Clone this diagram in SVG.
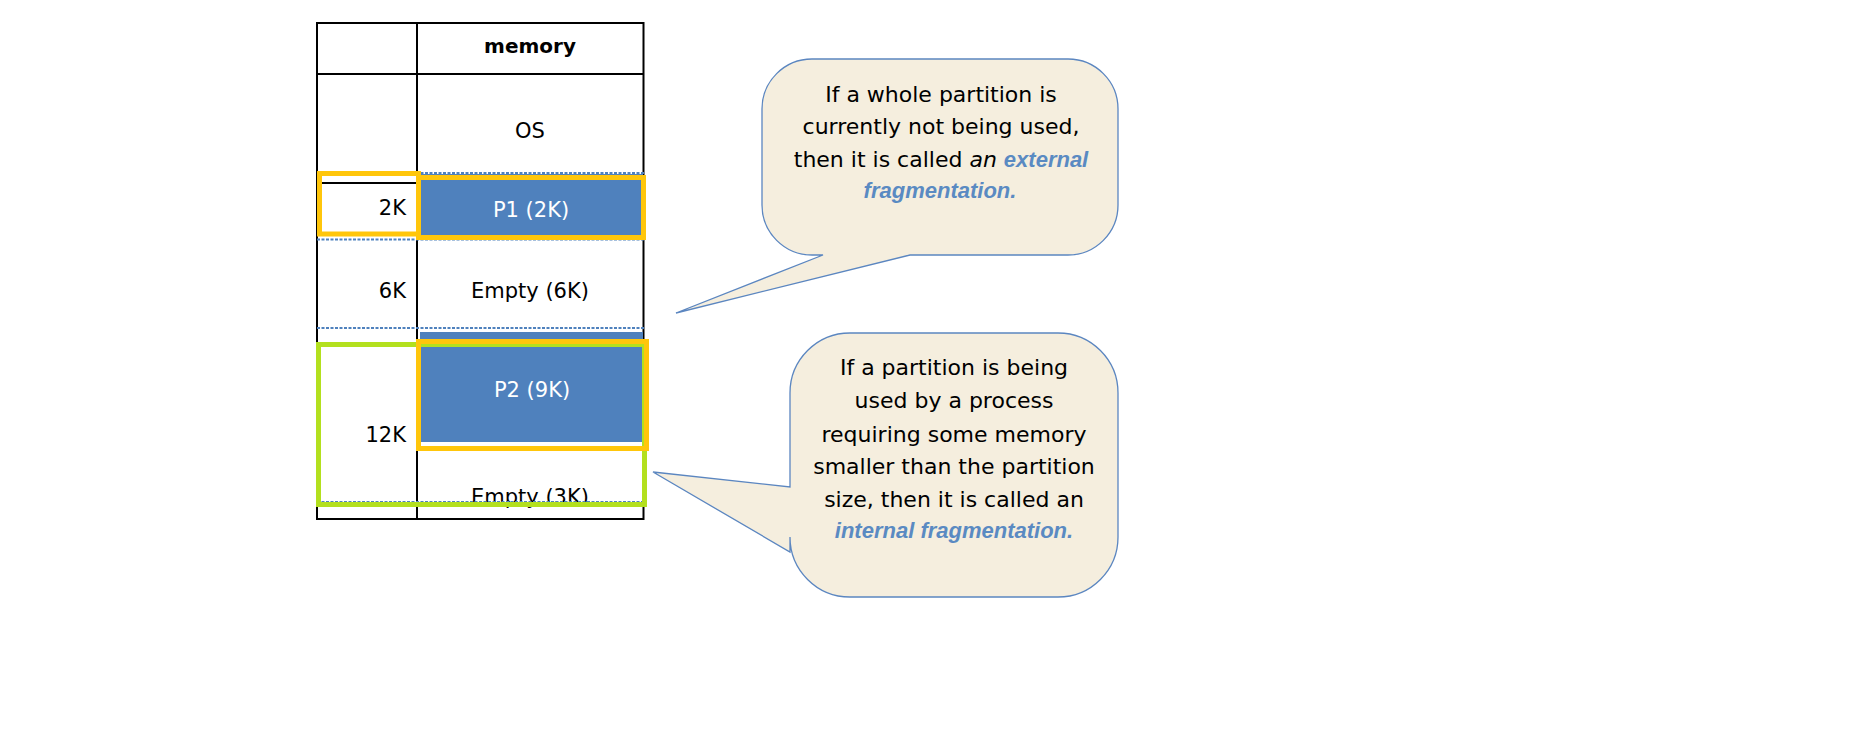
<svg xmlns="http://www.w3.org/2000/svg" width="1852" height="743" viewBox="0 0 1852 743">
<style>
.t{font-family:"DejaVu Sans","Liberation Sans",sans-serif;font-size:21px;fill:#000}
.k{font-size:22px}
.c{text-anchor:middle}
.r{text-anchor:end}
.w{fill:#fff}
.grid{stroke:#000;stroke-width:2;fill:none}
.dot{stroke:#4F81BD;stroke-width:2;stroke-dasharray:3 1.5;fill:none}
.blue{fill:#4F81BD}
.yel{fill:none;stroke:#FFC60B;stroke-width:5}
.grn{fill:none;stroke:#B3E01E;stroke-width:5}
.call{fill:#F5EEDE;stroke:#5B86C0;stroke-width:1.3}
.em{fill:#5A8AC2;font-family:"Liberation Sans","DejaVu Sans",sans-serif;font-size:22px;font-weight:bold;font-style:italic}
.it{font-style:italic}
</style>
<rect width="1852" height="743" fill="#fff"/>
<g id="table">
<rect class="grid" x="317" y="23" width="326.5" height="496"/>
<line class="grid" x1="417" y1="23" x2="417" y2="519"/>
<line class="grid" x1="317" y1="74" x2="643.5" y2="74"/>
<line class="grid" x1="317" y1="183" x2="643.5" y2="183"/>
<text class="t c" x="530" y="53" style="font-weight:bold;font-size:20px">memory</text>
<text class="t c" x="530" y="138">OS</text>
</g>
<g id="p1">
<rect class="blue" x="418" y="174" width="225" height="65"/>
<line class="dot" x1="317" y1="173" x2="645" y2="173"/>
<line class="dot" x1="317" y1="239.5" x2="645" y2="239.5"/>
<text class="t r" x="406" y="215">2K</text>
<text class="t c w" x="531" y="217">P1 (2K)</text>
</g>
<g id="empty6">
<text class="t r" x="406" y="298">6K</text>
<text class="t c" x="530" y="298">Empty (6K)</text>
<line class="dot" x1="317" y1="328" x2="645" y2="328"/>
</g>
<g id="p2">
<rect class="blue" x="420" y="332" width="223" height="110"/>
<text class="t c w" x="532" y="397">P2 (9K)</text>
<text class="t r" x="406" y="442">12K</text>
<text class="t c" x="530" y="504">Empty (3K)</text>
<line class="dot" x1="317" y1="502" x2="645" y2="502"/>
</g>
<g id="highlights">
<rect class="yel" x="319.5" y="173.5" width="99" height="60.5"/>
<rect class="yel" x="418.5" y="177.5" width="225" height="60"/>
<rect class="grn" x="318.5" y="344.5" width="326" height="160"/>
<rect class="yel" x="418.5" y="341.5" width="228" height="107"/>
</g>
<g id="callout-external">
<path class="call" d="M812,59 H1068 A50,50 0 0 1 1118,109 V205 A50,50 0 0 1 1068,255 H910 L676,313 L823,255 H812 A50,50 0 0 1 762,205 V109 A50,50 0 0 1 812,59 Z"/>
<text class="t k c" x="941" y="102">If a whole partition is</text>
<text class="t k c" x="941" y="134">currently not being used,</text>
<text class="t k c" x="941" y="167">then it is called <tspan class="it">an</tspan> <tspan class="em">external</tspan></text>
<text class="t k c em" x="940" y="198">fragmentation.</text>
</g>
<g id="callout-internal">
<path class="call" d="M850,333 H1058 A60,60 0 0 1 1118,393 V537 A60,60 0 0 1 1058,597 H850 A60,60 0 0 1 790,537 V552 L653,472 L790,487 V393 A60,60 0 0 1 850,333 Z"/>
<text class="t k c" x="954" y="375">If a partition is being</text>
<text class="t k c" x="954" y="408">used by a process</text>
<text class="t k c" x="954" y="442">requiring some memory</text>
<text class="t k c" x="954" y="474">smaller than the partition</text>
<text class="t k c" x="954" y="507">size, then it is called an</text>
<text class="t k c em" x="954" y="538">internal fragmentation.</text>
</g>
</svg>
